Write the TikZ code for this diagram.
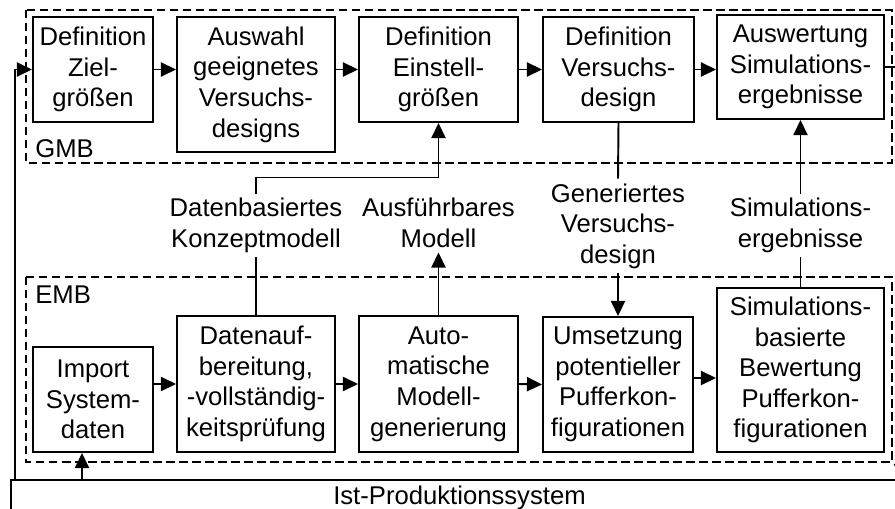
\documentclass[tikz,border=0pt]{standalone}
\usepackage{fontspec}
\setmainfont{Liberation Sans}
\usepackage{tikz}
\usetikzlibrary{positioning,arrows.meta,calc}

\begin{document}
\begin{tikzpicture}[
  font=\fontsize{14.6}{17.4}\selectfont,
  blkbox/.style={draw, line width=1.1pt, align=center, inner sep=0pt},
  lbl/.style={align=center, inner sep=2.5pt},
  dashgrp/.style={draw, line width=1pt, dash pattern=on 4.8pt off 2.6pt},
  grplbl/.style={anchor=base west, inner sep=0pt},
  arr/.style={line width=1.1pt, -{Triangle[length=8.6pt,width=8pt]}},
  ln/.style={line width=1.1pt}
]
\useasboundingbox (0,0) rectangle (17.9,-10.16);
\clip (0,0) rectangle (17.9,-10.16);

% group frames
\draw[dashgrp] (0.52,-0.2) rectangle (17.84,-3.26);
\draw[dashgrp] (0.52,-5.54) rectangle (17.84,-9.24);
\node[grplbl] (gmb) at (0.70,-3.14) {GMB};
\node[grplbl] (emb) at (0.70,-6.06) {EMB};

% GMB boxes
\node[blkbox, minimum width=2.4cm, minimum height=2.1cm] (z1) at (1.86,-1.39) {Definition\\Ziel-\\größen};
\node[blkbox, minimum width=3.16cm, minimum height=2.7cm] (z2) at (5.12,-1.69) {Auswahl\\geeignetes\\Versuchs-\\designs};
\node[blkbox, minimum width=3.18cm, minimum height=2.1cm] (z3) at (8.77,-1.39) {Definition\\Einstell-\\größen};
\node[blkbox, minimum width=3.02cm, minimum height=2.1cm] (z4) at (12.37,-1.39) {Definition\\Versuchs-\\design};
\node[blkbox, minimum width=3.34cm, minimum height=2.08cm] (z5) at (16.01,-1.34) {Auswertung\\Simulations-\\ergebnisse};

% EMB boxes
\node[blkbox, minimum width=2.4cm, minimum height=2.1cm] (e1) at (1.86,-7.99) {Import\\System-\\daten};
\node[blkbox, minimum width=3.16cm, minimum height=2.72cm] (e2) at (5.12,-7.68) {Datenauf-\\bereitung,\\-vollständig-\\keitsprüfung};
\node[blkbox, minimum width=3.18cm, minimum height=2.72cm] (e3) at (8.77,-7.68) {Auto-\\matische\\Modell-\\generierung};
\node[blkbox, minimum width=3.0cm, minimum height=2.7cm] (e4) at (12.36,-7.69) {Umsetzung\\potentieller\\Pufferkon-\\figurationen};
\node[blkbox, minimum width=3.34cm, minimum height=3.28cm] (e5) at (16.01,-7.40) {Simulations-\\basierte\\Bewertung\\Pufferkon-\\figurationen};

% intermediate results
\node[lbl] (lKonzept) at (5.12,-4.51) {Datenbasiertes\\Konzeptmodell};
\node[lbl] (lModell) at (8.77,-4.46) {Ausführbares\\Modell};
\node[lbl] (lDesign) at (12.36,-4.52) {Generiertes\\Versuchs-\\design};
\node[lbl] (lErgeb) at (16.01,-4.51) {Simulations-\\ergebnisse};

% real system
\node[draw, line width=1.1pt, anchor=north west, minimum width=17.94cm, minimum height=0.72cm, inner sep=0pt] (ist) at (0.2,-9.58) {Ist-Produktionssystem};

% GMB flow
\draw[arr] (z1.east) -- (z1.east -| z2.west);
\draw[arr] (z2.east |- z3.west) -- (z3.west);
\draw[arr] (z3.east) -- (z4.west);
\draw[arr] (z4.east) -- (z4.east -| z5.west);

% EMB flow
\draw[arr] (e1.east |- e2.west) -- (e2.west);
\draw[arr] (e2.east) -- (e3.west);
\draw[arr] (e3.east) -- (e4.west);
\draw[arr] ([yshift=0.13cm]e4.east) -- ([yshift=0.13cm]e4.east -| e5.west);

% between the levels
\draw[arr] (lKonzept.north) -- ++(0,0.32) -| (z3.south);
\draw[ln] (e2.north) -- (lKonzept.south);
\draw[arr] (e3.north) -- (lModell.south);
\draw[ln] (z4.south) -- (lDesign.north);
\draw[arr] (lDesign.south) -- (e4.north);
\draw[arr] (lErgeb.north) -- (z5.south);
\draw[ln] (e5.north) -- (lErgeb.south);

% system links
\draw[arr] ([xshift=-0.22cm]e1.south |- ist.north) -- ([xshift=-0.22cm]e1.south);
\draw[arr] ([xshift=0.1cm]ist.north west) |- (z1.west);
\draw[arr] (z5.east) -| ([xshift=-0.16cm]ist.north east);

\end{tikzpicture}
\end{document}
